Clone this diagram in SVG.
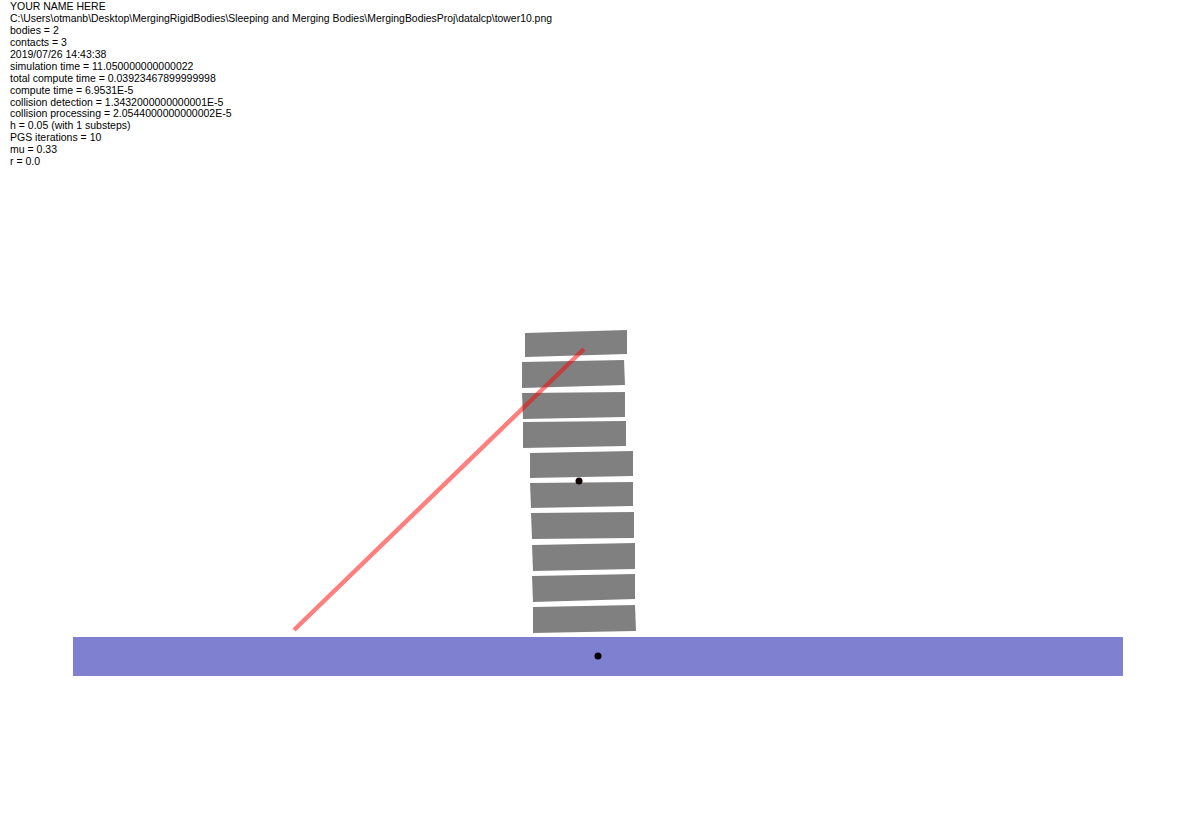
<svg xmlns="http://www.w3.org/2000/svg" width="1196" height="826" viewBox="0 0 1196 826">
<style>
.t{font-family:"Liberation Sans",Arial,sans-serif;font-size:10.5px;fill:#000}
.blk{fill:#808080}
.dot{fill:#000}
</style>
<rect x="0" y="0" width="1196" height="826" fill="#fff"/>
<g id="info">
<text class="t" x="10" y="10">YOUR NAME HERE</text>
<text class="t" x="10" y="22" textLength="542" lengthAdjust="spacingAndGlyphs">C:\Users\otmanb\Desktop\MergingRigidBodies\Sleeping and Merging Bodies\MergingBodiesProj\datalcp\tower10.png</text>
<text class="t" x="10" y="34">bodies = 2</text>
<text class="t" x="10" y="46">contacts = 3</text>
<text class="t" x="10" y="57.5">2019/07/26 14:43:38</text>
<text class="t" x="10" y="69.5">simulation time = 11.050000000000022</text>
<text class="t" x="10" y="81.5">total compute time = 0.03923467899999998</text>
<text class="t" x="10" y="93.5">compute time = 6.9531E-5</text>
<text class="t" x="10" y="105.5">collision detection = 1.3432000000000001E-5</text>
<text class="t" x="10" y="117">collision processing = 2.0544000000000002E-5</text>
<text class="t" x="10" y="129">h = 0.05 (with 1 substeps)</text>
<text class="t" x="10" y="141">PGS iterations = 10</text>
<text class="t" x="10" y="153">mu = 0.33</text>
<text class="t" x="10" y="165">r = 0.0</text>
</g>
<g id="ground">
<rect x="73" y="637" width="1050" height="39" fill="#8080d0"/>
<circle class="dot" cx="598" cy="656" r="3.5"/>
</g>
<g id="tower">
<polygon class="blk" points="525,333 627,330 627,354 525,357"/>
<polygon class="blk" points="522,362 624,360 625,385 522,388"/>
<polygon class="blk" points="522,393 625,392 625,417 523,419"/>
<polygon class="blk" points="523,422 626,421 626,446 523,448"/>
<polygon class="blk" points="530,453 633,451 633,476 530,478"/>
<polygon class="blk" points="530,483 633,482 633,506 531,508"/>
<polygon class="blk" points="531,513 634,512 634,538 532,539"/>
<polygon class="blk" points="532,545 635,543 635,569 533,571"/>
<polygon class="blk" points="532,576 635,574 635,599 533,602"/>
<polygon class="blk" points="533,607 635,605 636,631 533,633"/>
<circle cx="579" cy="481" r="3.5" fill="#100000"/>
</g>
<g id="connectors">
<line x1="294" y1="630" x2="584" y2="349" stroke="#ff0000" stroke-opacity="0.5" stroke-width="4.5"/>
</g>
</svg>
